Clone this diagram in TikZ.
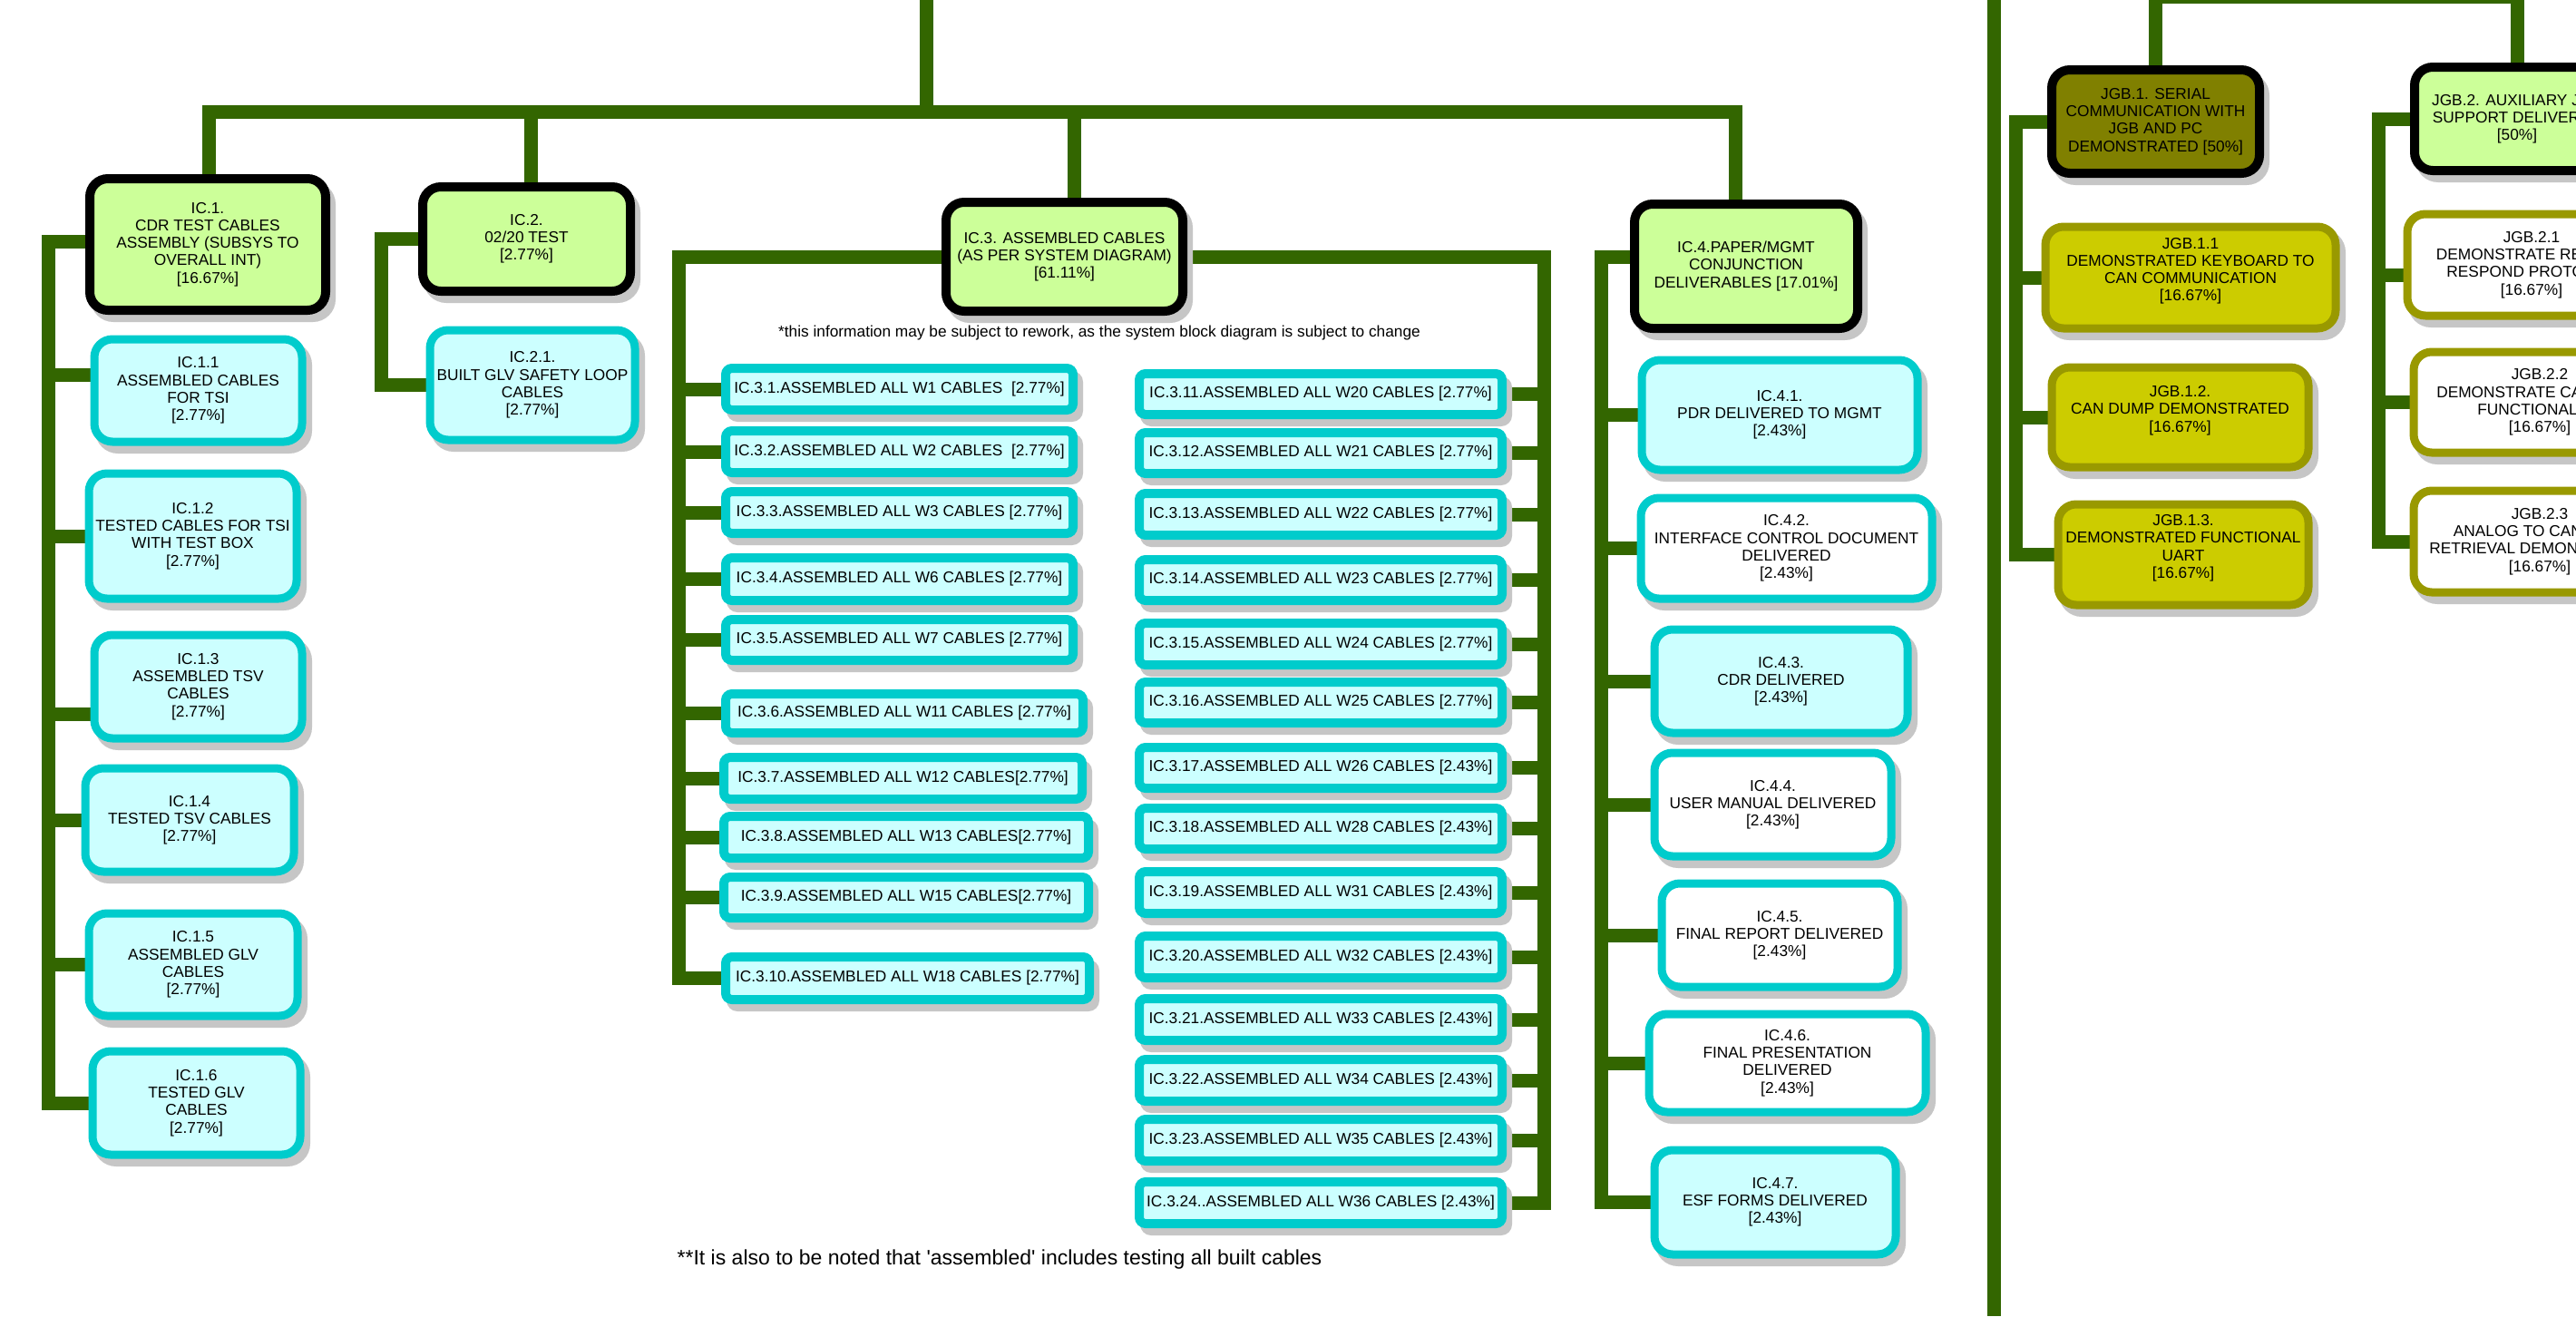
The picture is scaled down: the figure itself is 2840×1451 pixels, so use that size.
\documentclass[tikz,border=0pt]{standalone}
\usepackage{fontspec}
\setmainfont{Liberation Sans}
\pgfdeclarelayer{back}
\pgfdeclarelayer{bg}
\pgfsetlayers{back,bg,main}
\definecolor{conngreen}{HTML}{336600}
\definecolor{parentfill}{HTML}{CCFF99}
\definecolor{childfill}{HTML}{CCFFFF}
\definecolor{cyanline}{HTML}{00CCCC}
\definecolor{olivefill}{HTML}{808000}
\definecolor{jgbfill}{HTML}{CCCC00}
\definecolor{jgbline}{HTML}{999900}
\definecolor{shadowc}{HTML}{C6C6C6}
\tikzset{
  wbs/.style={rectangle, inner sep=0pt, outer sep=0pt, align=center,
    font=\fontsize{17.3}{19.2}\selectfont, line width=10pt},
  parentbox/.style={wbs, draw=black, fill=parentfill},
  olivebox/.style={wbs, draw=black, fill=olivefill},
  childbox/.style={wbs, draw=cyanline, fill=childfill, line width=9pt},
  whitebox/.style={wbs, draw=cyanline, fill=white, line width=9pt},
  jgbbox/.style={wbs, draw=jgbline, fill=jgbfill, line width=9pt},
  jgbwhite/.style={wbs, draw=jgbline, fill=white, line width=9pt},
  cablebox/.style={wbs, draw=cyanline, fill=childfill, line width=10pt},
  conn/.style={draw=conngreen, line width=15pt, line cap=rect, line join=miter},
  note/.style={font=\fontsize{17.3}{19.2}\selectfont, inner sep=0pt},
  bignote/.style={font=\fontsize{23}{26}\selectfont, inner sep=0pt},
}
% #1 radius, #2 name, #3 x1, #4 y1, #5 x2, #6 y2 (outer extents), #7 style, #8 text
\newcommand\wbsbox[8][20]{%
  \pgfmathsetmacro\wbsshr{#1+5}%
  \fill[shadowc, rounded corners=\wbsshr pt] ({#3+6},{#4+8}) rectangle ({#5+6},{#6+8});
  \node[#7, rounded corners=#1pt, minimum width={#5-#3-10}, minimum height={#6-#4-10}]
    (#2) at ({(#3+#5)/2},{(#4+#6)/2}) {#8};
}
\begin{document}
\begin{tikzpicture}[x=1pt, y=-1pt]
\useasboundingbox (0,0) rectangle (2840,1451);
\begin{pgfonlayer}{back}
  \fill[white] (0,0) rectangle (2840,1451);
\end{pgfonlayer}

% ---------- IC parents ----------
\wbsbox{ic1}{94}{192}{364}{347}{parentbox}{IC.1.\\CDR TEST CABLES\\ASSEMBLY (SUBSYS TO\\OVERALL INT)\\{}[16.67\%]}
\wbsbox{ic2}{461}{201}{700}{326}{parentbox}{IC.2.\\02/20 TEST\\{}[2.77\%]}
\wbsbox{ic3}{1038}{218}{1309}{348}{parentbox}{IC.3. ASSEMBLED CABLES\\(AS PER SYSTEM DIAGRAM)\\{}[61.11\%]}
\wbsbox{ic4}{1797}{220}{2053}{367}{parentbox}{IC.4.PAPER/MGMT\\CONJUNCTION\\DELIVERABLES [17.01\%]}

% ---------- IC.1 children ----------
\wbsbox{icA1}{99}{369}{338}{492}{childbox}{IC.1.1\\ASSEMBLED CABLES\\FOR TSI\\{}[2.77\%]}
\wbsbox{icA2}{93}{517}{332}{665}{childbox}{IC.1.2\\TESTED CABLES FOR TSI\\WITH TEST BOX\\{}[2.77\%]}
\wbsbox{icA3}{99}{695}{338}{819}{childbox}{IC.1.3\\ASSEMBLED TSV\\CABLES\\{}[2.77\%]}
\wbsbox{icA4}{89}{842}{329}{966}{childbox}{IC.1.4\\TESTED TSV CABLES\\{}[2.77\%]}
\wbsbox{icA5}{93}{1002}{333}{1125}{childbox}{IC.1.5\\ASSEMBLED GLV\\CABLES\\{}[2.77\%]}
\wbsbox{icA6}{97}{1154}{336}{1278}{childbox}{IC.1.6\\TESTED GLV\\CABLES\\{}[2.77\%]}

% ---------- IC.2 child ----------
\wbsbox{icB1}{469}{359}{705}{490}{childbox}{IC.2.1.\\BUILT GLV SAFETY LOOP\\CABLES\\{}[2.77\%]}

% ---------- IC.3 children ----------
\wbsbox[7]{icC1}{795}{401}{1188}{457}{cablebox}{IC.3.1.ASSEMBLED ALL W1 CABLES\ \ [2.77\%]}
\wbsbox[7]{icC2}{795}{470}{1188}{526}{cablebox}{IC.3.2.ASSEMBLED ALL W2 CABLES\ \ [2.77\%]}
\wbsbox[7]{icC3}{795}{537}{1188}{593}{cablebox}{IC.3.3.ASSEMBLED ALL W3 CABLES [2.77\%]}
\wbsbox[7]{icC4}{795}{610}{1188}{667}{cablebox}{IC.3.4.ASSEMBLED ALL W6 CABLES [2.77\%]}
\wbsbox[7]{icC5}{795}{678}{1188}{733}{cablebox}{IC.3.5.ASSEMBLED ALL W7 CABLES [2.77\%]}
\wbsbox[7]{icC6}{795}{760}{1199}{813}{cablebox}{IC.3.6.ASSEMBLED ALL W11 CABLES [2.77\%]}
\wbsbox[7]{icC7}{793}{830}{1198}{886}{cablebox}{IC.3.7.ASSEMBLED ALL W12 CABLES[2.77\%]}
\wbsbox[7]{icC8}{793}{895}{1205}{951}{cablebox}{IC.3.8.ASSEMBLED ALL W13 CABLES[2.77\%]}
\wbsbox[7]{icC9}{793}{962}{1205}{1017}{cablebox}{IC.3.9.ASSEMBLED ALL W15 CABLES[2.77\%]}
\wbsbox[7]{icC10}{795}{1050}{1206}{1107}{cablebox}{IC.3.10.ASSEMBLED ALL W18 CABLES [2.77\%]}
\wbsbox[7]{icC11}{1251}{407}{1661}{462}{cablebox}{IC.3.11.ASSEMBLED ALL W20 CABLES [2.77\%]}
\wbsbox[7]{icC12}{1251}{472}{1661}{527}{cablebox}{IC.3.12.ASSEMBLED ALL W21 CABLES [2.77\%]}
\wbsbox[7]{icC13}{1251}{539}{1661}{595}{cablebox}{IC.3.13.ASSEMBLED ALL W22 CABLES [2.77\%]}
\wbsbox[7]{icC14}{1251}{612}{1661}{667}{cablebox}{IC.3.14.ASSEMBLED ALL W23 CABLES [2.77\%]}
\wbsbox[7]{icC15}{1251}{682}{1661}{738}{cablebox}{IC.3.15.ASSEMBLED ALL W24 CABLES [2.77\%]}
\wbsbox[7]{icC16}{1251}{747}{1661}{802}{cablebox}{IC.3.16.ASSEMBLED ALL W25 CABLES [2.77\%]}
\wbsbox[7]{icC17}{1251}{819}{1661}{874}{cablebox}{IC.3.17.ASSEMBLED ALL W26 CABLES [2.43\%]}
\wbsbox[7]{icC18}{1251}{886}{1661}{941}{cablebox}{IC.3.18.ASSEMBLED ALL W28 CABLES [2.43\%]}
\wbsbox[7]{icC19}{1251}{956}{1661}{1012}{cablebox}{IC.3.19.ASSEMBLED ALL W31 CABLES [2.43\%]}
\wbsbox[7]{icC20}{1251}{1027}{1661}{1083}{cablebox}{IC.3.20.ASSEMBLED ALL W32 CABLES [2.43\%]}
\wbsbox[7]{icC21}{1251}{1096}{1661}{1152}{cablebox}{IC.3.21.ASSEMBLED ALL W33 CABLES [2.43\%]}
\wbsbox[7]{icC22}{1251}{1163}{1661}{1219}{cablebox}{IC.3.22.ASSEMBLED ALL W34 CABLES [2.43\%]}
\wbsbox[7]{icC23}{1251}{1229}{1661}{1285}{cablebox}{IC.3.23.ASSEMBLED ALL W35 CABLES [2.43\%]}
\wbsbox[7]{icC24}{1251}{1298}{1661}{1354}{cablebox}{IC.3.24..ASSEMBLED ALL W36 CABLES [2.43\%]}

% ---------- IC.4 children ----------
\wbsbox{icD1}{1805}{392}{2119}{523}{childbox}{IC.4.1.\\PDR DELIVERED TO MGMT\\{}[2.43\%]}
\wbsbox{icD2}{1804}{544}{2135}{665}{whitebox}{IC.4.2.\\INTERFACE CONTROL DOCUMENT\\DELIVERED\\{}[2.43\%]}
\wbsbox{icD3}{1819}{689}{2108}{813}{childbox}{IC.4.3.\\CDR DELIVERED\\{}[2.43\%]}
\wbsbox{icD4}{1819}{825}{2090}{949}{whitebox}{IC.4.4.\\USER MANUAL DELIVERED\\{}[2.43\%]}
\wbsbox{icD5}{1827}{969}{2097}{1093}{whitebox}{IC.4.5.\\FINAL REPORT DELIVERED\\{}[2.43\%]}
\wbsbox{icD6}{1813}{1113}{2128}{1231}{whitebox}{IC.4.6.\\FINAL PRESENTATION\\DELIVERED\\{}[2.43\%]}
\wbsbox{icD7}{1819}{1263}{2095}{1388}{childbox}{IC.4.7.\\ESF FORMS DELIVERED\\{}[2.43\%]}

% ---------- JGB ----------
\wbsbox{jgb1}{2257}{72}{2496}{196}{olivebox}{JGB.1. SERIAL\\COMMUNICATION WITH\\JGB AND PC\\DEMONSTRATED [50\%]}
\wbsbox{jgb2}{2657}{69}{2893}{193}{parentbox}{JGB.2. AUXILIARY JGB\\SUPPORT DELIVERED\\{}[50\%]}
\wbsbox{jgbA1}{2250}{245}{2580}{367}{jgbbox}{JGB.1.1\\DEMONSTRATED KEYBOARD TO\\CAN COMMUNICATION\\{}[16.67\%]\\[-1pt]\mbox{}}
\wbsbox{jgbA2}{2257}{400}{2550}{520}{jgbbox}{JGB.1.2.\\CAN DUMP DEMONSTRATED\\{}[16.67\%]\\[-1pt]\mbox{}}
\wbsbox{jgbA3}{2264}{551}{2550}{672}{jgbbox}{JGB.1.3.\\DEMONSTRATED FUNCTIONAL\\UART\\{}[16.67\%]\\[-1pt]\mbox{}}
\wbsbox{jgbB1}{2649}{231}{2933}{353}{jgbwhite}{JGB.2.1\\DEMONSTRATE REMOTE\\RESPOND PROTOCOL\\{}[16.67\%]}
\wbsbox{jgbB2}{2656}{383}{2944}{504}{jgbwhite}{JGB.2.2\\DEMONSTRATE CAN NODE\\FUNCTIONALITY\\{}[16.67\%]}
\wbsbox{jgbB3}{2656}{536}{2944}{658}{jgbwhite}{JGB.2.3\\ANALOG TO CAN DATA\\RETRIEVAL DEMONSTRATED\\{}[16.67\%]}

% ---------- notes ----------
\node[note] (note1) at (1212,367) {*this information may be subject to rework, as the system block diagram is subject to change};
\node[bignote] (note2) at (1102,1389) {**It is also to be noted that \textquotesingle assembled\textquotesingle\ includes testing all built cables};

% ---------- connectors ----------
\coordinate (trunktop) at (1021,0);
\coordinate (barL) at (230,123.5);
\coordinate (barR) at (1913.5,123.5);
\coordinate (busA) at (53.5,0);
\coordinate (busB) at (420.5,0);
\coordinate (busCL) at (748.5,0);
\coordinate (busCR) at (1702.5,0);
\coordinate (busD) at (1765,0);
\coordinate (busJA) at (2222.5,0);
\coordinate (busJB) at (2622,0);
\coordinate (jbar) at (0,-3.5);
\coordinate (sepT) at (2198,0);
\coordinate (sepB) at (2198,1451);

\begin{pgfonlayer}{bg}
  % main trunk and bar
  \draw[conn, line cap=butt] (trunktop) -- (trunktop |- barL);
  \draw[conn] (barL) -- (barR);
  \draw[conn] ([xshift=1pt]ic1.north) -- ([xshift=1pt]ic1.north |- barL);
  \draw[conn] ([xshift=5pt]ic2.north) -- ([xshift=5pt]ic2.north |- barL);
  \draw[conn] ([xshift=11pt]ic3.north) -- ([xshift=11pt]ic3.north |- barL);
  \draw[conn] ([xshift=-11.5pt]ic4.north) -- ([xshift=-11.5pt]ic4.north |- barL);
  % separator
  \draw[conn, line cap=butt] (sepT) -- (sepB);
  % IC.1 bracket
  \draw[conn] ([yshift=3pt]ic1.west) -- ([yshift=3pt]ic1.west -| busA) -- (icA6.west -| busA) -- (icA6.west);
  \draw[conn] ([yshift=17.5pt]icA1.west) -- ([yshift=17.5pt]icA1.west -| busA);
  \draw[conn] (icA2.west) -- (icA2.west -| busA);
  \draw[conn] ([yshift=-30pt]icA3.west) -- ([yshift=-30pt]icA3.west -| busA);
  \draw[conn] (icA4.west) -- (icA4.west -| busA);
  \draw[conn] (icA5.west) -- (icA5.west -| busA);
  % IC.2 bracket
  \draw[conn] (ic2.west) -- (ic2.west -| busB) -- (icB1.west -| busB) -- (icB1.west);
  % IC.3 brackets
  \draw[conn] (ic3.west) -- (ic3.west -| busCL) -- (icC10.west -| busCL) -- (icC10.west);
  \foreach \i in {1,...,9} \draw[conn] (icC\i.west) -- (icC\i.west -| busCL);
  \draw[conn] (ic3.east) -- (ic3.east -| busCR) -- (icC24.east -| busCR) -- (icC24.east);
  \foreach \i in {11,...,23} \draw[conn] (icC\i.east) -- (icC\i.east -| busCR);
  % IC.4 bracket
  \draw[conn] ([yshift=10pt]ic4.west) -- ([yshift=10pt]ic4.west -| busD) -- (icD7.west -| busD) -- (icD7.west);
  \foreach \i in {1,...,6} \draw[conn] (icD\i.west) -- (icD\i.west -| busD);
  % JGB top bar
  \draw[conn] (jgb1.north) -- (jgb1.north |- jbar) -- (jgb2.north |- jbar) -- (jgb2.north);
  % JGB.1 bracket
  \draw[conn] (jgb1.west) -- (jgb1.west -| busJA) -- (jgbA3.west -| busJA) -- (jgbA3.west);
  \draw[conn] (jgbA1.west) -- (jgbA1.west -| busJA);
  \draw[conn] (jgbA2.west) -- (jgbA2.west -| busJA);
  % JGB.2 bracket
  \draw[conn] (jgb2.west) -- (jgb2.west -| busJB) -- (jgbB3.west -| busJB) -- (jgbB3.west);
  \draw[conn] ([yshift=-11pt]jgbB1.west) -- ([yshift=-11pt]jgbB1.west -| busJB);
  \draw[conn] (jgbB2.west) -- (jgbB2.west -| busJB);
\end{pgfonlayer}
\end{tikzpicture}
\end{document}
